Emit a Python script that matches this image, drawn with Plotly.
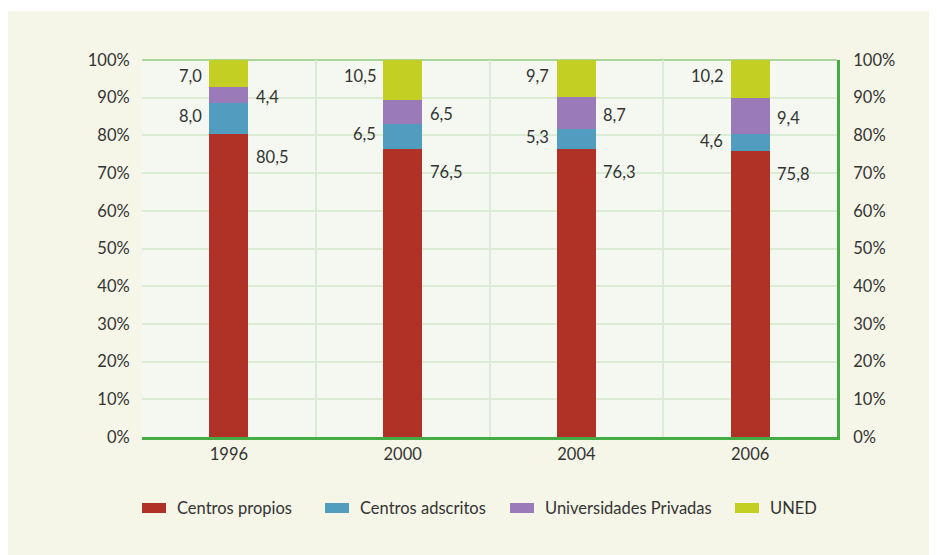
import plotly.graph_objects as go

years = ["1996", "2000", "2004", "2006"]
centros_propios = [80.5, 76.5, 76.3, 75.8]
centros_adscritos = [8.0, 6.5, 5.3, 4.6]
univ_privadas = [4.4, 6.5, 8.7, 9.4]
uned = [7.0, 10.5, 9.7, 10.2]
series_names = ["Centros propios", "Centros adscritos", "Universidades Privadas", "UNED"]
colors = ["#B03227", "#519DC0", "#9A7AB8", "#C3CF23"]
y_ticks = [0, 10, 20, 30, 40, 50, 60, 70, 80, 90, 100]
y_ticktext = [f"{v}%" for v in y_ticks]

FONT = "Lato"
FS = 16.5
TXT = "#333333"
GREEN = "#45AB45"
CREAM = "#F6F6E8"

W, H = 937, 555
# plot area in figure pixels (page has an 8px body offset)
PL, PR, PT, PB = 134, 829, 52, 429
PW, PH = PR - PL, PB - PT

def px2paper_x(x):
    return (x - PL) / PW

def px2paper_y(y):
    return (PB - y) / PH

fig = go.Figure()
for name, vals, col in zip(series_names, [centros_propios, centros_adscritos, univ_privadas, uned], colors):
    fig.add_trace(go.Bar(x=years, y=vals, name=name, marker=dict(color=col, line=dict(width=0)),
                         width=0.225, hoverinfo="skip", showlegend=False))

# invisible trace for the right axis
fig.add_trace(go.Scatter(x=years, y=[0] * len(years), yaxis="y2", mode="markers",
                         marker=dict(opacity=0), showlegend=False, hoverinfo="skip"))

def fmt(v):
    return f"{v:.1f}".replace(".", ",")

ann = []
for i, yr in enumerate(years):
    top = centros_propios[i]
    ann.append(dict(x=i, y=top, text=fmt(centros_propios[i]), xanchor="left", yanchor="middle",
                    xshift=25, yshift=-23, showarrow=False))
    mid = top + centros_adscritos[i] / 2
    ann.append(dict(x=i, y=mid, text=fmt(centros_adscritos[i]), xanchor="right", yanchor="middle",
                    xshift=-25, yshift=2, showarrow=False))
    top2 = top + centros_adscritos[i]
    mid = top2 + univ_privadas[i] / 2
    ann.append(dict(x=i, y=mid, text=fmt(univ_privadas[i]), xanchor="left", yanchor="middle",
                    xshift=25, yshift=-2, showarrow=False))
    ann.append(dict(x=i, y=100, text=fmt(uned[i]), xanchor="right", yanchor="top",
                    xshift=-25, yshift=-4, showarrow=False))
for a in ann:
    a["font"] = dict(family=FONT, size=FS, color=TXT)

shapes = [
    # thin white strip at the top of the page
    dict(type="rect", xref="paper", yref="paper",
         x0=px2paper_x(-20), x1=px2paper_x(W + 20), y0=px2paper_y(3), y1=px2paper_y(-20),
         fillcolor="white", line=dict(width=0), layer="below"),
    dict(type="rect", xref="paper", yref="paper", x0=0, x1=1, y0=0, y1=1,
         fillcolor="#F4F8F1", line=dict(width=0), layer="below"),
    dict(type="line", xref="paper", yref="paper", x0=0, x1=1, y0=1, y1=1,
         line=dict(color="#A9D79B", width=2), layer="below"),
]

# manual legend (rectangular swatches)
legend_swatch_x = [134, 317, 502, 727]
legend_y = 500
for name, col, sx in zip(series_names, colors, legend_swatch_x):
    shapes.append(dict(type="rect", xref="paper", yref="paper",
                       x0=px2paper_x(sx), x1=px2paper_x(sx + 24),
                       y0=px2paper_y(legend_y + 5), y1=px2paper_y(legend_y - 5),
                       fillcolor=col, line=dict(width=0)))
    ann.append(dict(xref="paper", yref="paper", x=px2paper_x(sx + 33), y=px2paper_y(legend_y),
                    text=name, xanchor="left", yanchor="middle", showarrow=False,
                    font=dict(family=FONT, size=FS, color=TXT)))

fig.update_layout(
    barmode="stack",
    width=W, height=H,
    margin=dict(l=PL, r=W - PR, t=PT, b=H - PB),
    paper_bgcolor=CREAM,
    plot_bgcolor="rgba(0,0,0,0)",
    font=dict(family=FONT, size=FS, color=TXT),
    xaxis=dict(type="category", range=[-0.5, len(years) - 0.5], showgrid=True, tickson="boundaries",
               gridcolor="#DCEBD4", gridwidth=1.5,
               showline=True, linecolor=GREEN, linewidth=3,
               ticks="outside", ticklen=12, tickcolor="rgba(0,0,0,0)",
               tickfont=dict(size=FS, color=TXT), tickangle=0),
    yaxis=dict(range=[0, 100], tickmode="array", tickvals=y_ticks, ticktext=y_ticktext, showgrid=True,
               gridcolor="#DCEBD4", gridwidth=1.5, zeroline=False, showline=False,
               ticks="outside", ticklen=8, tickcolor="rgba(0,0,0,0)",
               tickfont=dict(size=FS, color=TXT)),
    yaxis2=dict(range=[0, 100], tickmode="array", tickvals=y_ticks, ticktext=y_ticktext,
                overlaying="y", side="right",
                showgrid=False, zeroline=False, showline=True, linecolor=GREEN, linewidth=3,
                ticks="outside", ticklen=10, tickcolor="rgba(0,0,0,0)",
                tickfont=dict(size=FS, color=TXT)),
    annotations=ann,
    shapes=shapes,
    showlegend=False,
)

fig.write_html("out.html")
